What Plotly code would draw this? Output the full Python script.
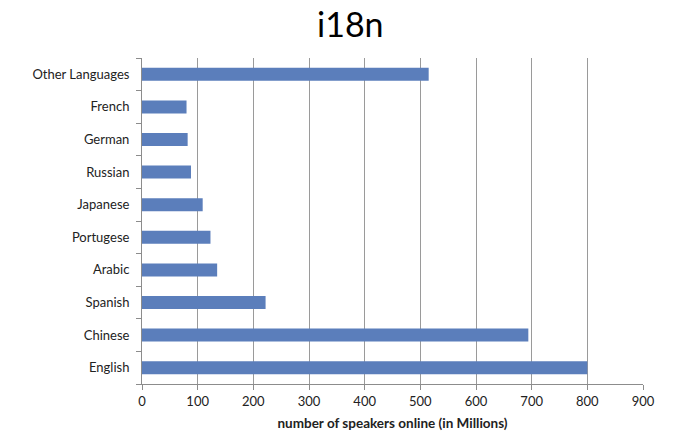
import plotly.graph_objects as go

languages = ["English", "Chinese", "Spanish", "Arabic", "Portugese",
             "Japanese", "Russian", "German", "French", "Other Languages"]
speakers = [800, 694, 222, 135, 123, 109, 88, 82, 80, 515]
x_ticks = [0, 100, 200, 300, 400, 500, 600, 700, 800, 900]

fig = go.Figure()
fig.add_trace(go.Bar(
    x=speakers,
    y=languages,
    orientation="h",
    marker_color="#5b7ebb",
    marker_line_width=0,
))

# the page adds an 8px body margin, so margins are offset to line up the plot area
fig.update_layout(
    width=700,
    height=435,
    paper_bgcolor="white",
    plot_bgcolor="white",
    font=dict(family="Lato, Carlito, Liberation Sans, sans-serif", size=13, color="#222"),
    margin=dict(l=134, r=65, t=50, b=59),
    bargap=0.6,
    showlegend=False,
)
fig.add_annotation(
    text="i18n", xref="paper", yref="paper", x=0.416, y=1.105,
    xanchor="center", yanchor="middle", showarrow=False,
    font=dict(size=34, color="black"),
)
fig.update_xaxes(
    range=[0, 900],
    tickvals=x_ticks,
    showgrid=True,
    gridcolor="#9a9a9a",
    gridwidth=1,
    showline=True,
    linecolor="#8c8c8c",
    ticks="outside",
    ticklen=5,
    tickcolor="#8c8c8c",
    zeroline=False,
    title=dict(text="<b>number of speakers online (in Millions)</b>", standoff=10,
               font=dict(size=13.5, color="#222")),
)
fig.update_yaxes(
    showline=True,
    linecolor="#8c8c8c",
    ticks="outside",
    ticklen=5,
    tickcolor="#8c8c8c",
    tickson="boundaries",
    showgrid=False,
    ticklabelstandoff=9,
)

fig.write_html("out.html")
